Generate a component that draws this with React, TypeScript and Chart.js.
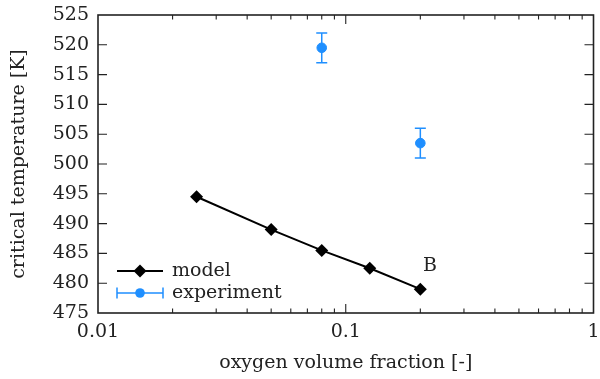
import React, { useEffect, useRef } from "react";
import { Chart, registerables } from "chart.js";

Chart.register(...registerables);

const modelX = [0.025, 0.05, 0.08, 0.125, 0.2];
const modelY = [494.5, 489, 485.5, 482.5, 479];
const expX = [0.08, 0.2];
const expY = [519.5, 503.5];
const expErr = [2.5, 2.5];
const xTickValues = [0.01, 0.1, 1];
const xTickLabels = ["0.01", "0.1", "1"];
const yMin = 475;
const yMax = 525;
const yStep = 5;
const annotationText = "B";
const annotationX = 0.219;
const annotationY = 482.8;
const legendLabels = ["model", "experiment"];

const FONT = "DejaVu Serif";
const FS = 19;
const BLUE = "#1f8fff";
const INK = "#222222";

const framePlugin = {
  id: "frame",
  afterDatasetsDraw(chart: any) {
    const { ctx, chartArea: a, scales } = chart;
    const xs = scales.x;
    const ys = scales.y;
    ctx.save();
    // error bars
    ctx.strokeStyle = BLUE;
    ctx.lineWidth = 1.5;
    expX.forEach((xv, i) => {
      const px = xs.getPixelForValue(xv);
      const top = ys.getPixelForValue(expY[i] + expErr[i]);
      const bot = ys.getPixelForValue(expY[i] - expErr[i]);
      ctx.beginPath();
      ctx.moveTo(px, top);
      ctx.lineTo(px, bot);
      ctx.moveTo(px - 5.5, top);
      ctx.lineTo(px + 5.5, top);
      ctx.moveTo(px - 5.5, bot);
      ctx.lineTo(px + 5.5, bot);
      ctx.stroke();
    });
    // frame
    ctx.strokeStyle = INK;
    ctx.lineWidth = 1.6;
    ctx.strokeRect(a.left, a.top, a.right - a.left, a.bottom - a.top);
    // ticks
    ctx.lineWidth = 1.1;
    ctx.beginPath();
    const major = 9;
    const minor = 4.5;
    for (let d = -2; d < 0; d++) {
      for (let m = 1; m <= 9; m++) {
        const v = m * Math.pow(10, d);
        const px = xs.getPixelForValue(v);
        const len = m === 1 ? major : minor;
        if (m === 1 && d === -2) continue;
        ctx.moveTo(px, a.bottom);
        ctx.lineTo(px, a.bottom - len);
        ctx.moveTo(px, a.top);
        ctx.lineTo(px, a.top + len);
      }
    }
    for (let v = yMin + yStep; v < yMax; v += yStep) {
      const py = ys.getPixelForValue(v);
      ctx.moveTo(a.left, py);
      ctx.lineTo(a.left + major, py);
      ctx.moveTo(a.right, py);
      ctx.lineTo(a.right - major, py);
    }
    ctx.stroke();
    // annotation
    ctx.fillStyle = INK;
    ctx.font = `${FS}px "${FONT}"`;
    ctx.textAlign = "center";
    ctx.textBaseline = "middle";
    ctx.fillText(annotationText, xs.getPixelForValue(annotationX), ys.getPixelForValue(annotationY));
    // legend
    const lx0 = 117;
    const lx1 = 163;
    const lxc = (lx0 + lx1) / 2;
    const ly1 = 271;
    const ly2 = 293;
    ctx.strokeStyle = "#000";
    ctx.lineWidth = 2;
    ctx.beginPath();
    ctx.moveTo(lx0, ly1);
    ctx.lineTo(lx1, ly1);
    ctx.stroke();
    ctx.fillStyle = "#000";
    ctx.beginPath();
    ctx.moveTo(lxc - 6.5, ly1);
    ctx.lineTo(lxc, ly1 - 6.5);
    ctx.lineTo(lxc + 6.5, ly1);
    ctx.lineTo(lxc, ly1 + 6.5);
    ctx.closePath();
    ctx.fill();
    ctx.strokeStyle = BLUE;
    ctx.lineWidth = 1.5;
    ctx.beginPath();
    ctx.moveTo(lx0, ly2);
    ctx.lineTo(lx1, ly2);
    ctx.moveTo(lx0, ly2 - 5.5);
    ctx.lineTo(lx0, ly2 + 5.5);
    ctx.moveTo(lx1, ly2 - 5.5);
    ctx.lineTo(lx1, ly2 + 5.5);
    ctx.stroke();
    ctx.fillStyle = BLUE;
    ctx.beginPath();
    ctx.arc(lxc, ly2, 4.8, 0, Math.PI * 2);
    ctx.fill();
    ctx.fillStyle = INK;
    ctx.textAlign = "left";
    ctx.fillText(legendLabels[0], 172, ly1);
    ctx.fillText(legendLabels[1], 172, ly2);
    ctx.restore();
  },
};

export default function App() {
  const ref = useRef<HTMLCanvasElement | null>(null);
  useEffect(() => {
    if (!ref.current) return;
    const chart = new Chart(ref.current, {
      type: "scatter",
      data: {
        datasets: [
          {
            label: legendLabels[1],
            data: expX.map((x, i) => ({ x, y: expY[i] })),
            backgroundColor: BLUE,
            borderColor: BLUE,
            pointStyle: "circle",
            pointRadius: 4.8,
            showLine: false,
          },
          {
            label: legendLabels[0],
            data: modelX.map((x, i) => ({ x, y: modelY[i] })),
            backgroundColor: "#000",
            borderColor: "#000",
            borderWidth: 2,
            pointStyle: "rectRot",
            pointRadius: 6.5,
            pointBorderWidth: 0,
            showLine: true,
          },
        ],
      },
      options: {
        responsive: false,
        animation: false,
        layout: { padding: { top: 15, right: 5, left: 0, bottom: 0 } },
        plugins: { legend: { display: false }, tooltip: { enabled: false } },
        scales: {
          x: {
            type: "logarithmic",
            min: 0.01,
            max: 1,
            grid: { display: false, drawTicks: false },
            border: { display: false },
            afterBuildTicks: (s: any) => {
              s.ticks = xTickValues.map((v) => ({ value: v }));
            },
            afterFit: (s: any) => {
              s.height = 66;
              s.paddingLeft = 0;
              s.paddingRight = 0;
            },
            ticks: {
              color: INK,
              font: { family: FONT, size: FS },
              padding: 8,
              maxRotation: 0,
              autoSkip: false,
              callback: (v: any) => {
                const i = xTickValues.findIndex((t) => Math.abs(t - v) < 1e-9);
                return i >= 0 ? xTickLabels[i] : "";
              },
            },
            title: {
              display: true,
              text: "oxygen volume fraction [-]",
              color: INK,
              font: { family: FONT, size: FS },
              padding: { top: 0, bottom: 5 },
            },
          },
          y: {
            min: yMin,
            max: yMax,
            grid: { display: false, drawTicks: false },
            border: { display: false },
            afterFit: (s: any) => {
              s.width = 98;
              s.paddingTop = 0;
              s.paddingBottom = 0;
            },
            ticks: {
              stepSize: yStep,
              color: INK,
              font: { family: FONT, size: FS },
              padding: 9,
            },
            title: {
              display: true,
              text: "critical temperature [K]",
              color: INK,
              font: { family: FONT, size: FS },
              padding: { top: 8, bottom: 0 },
            },
          },
        },
      },
      plugins: [framePlugin],
    } as any);
    return () => chart.destroy();
  }, []);
  return (
    <div style={{ position: "fixed", left: 0, top: 0, width: 600, height: 379, background: "#fff" }}>
      <canvas ref={ref} width={600} height={379} style={{ width: 600, height: 379 }} />
    </div>
  );
}
